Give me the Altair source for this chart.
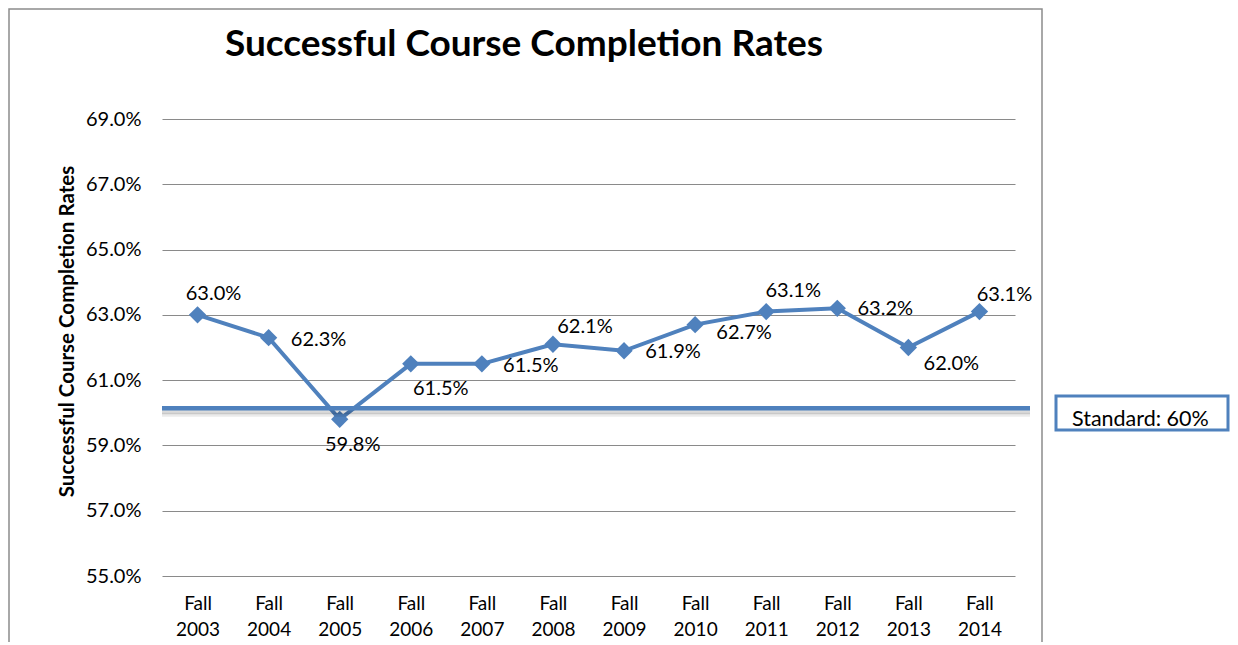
import altair as alt
import pandas as pd

terms = ["Fall 2003", "Fall 2004", "Fall 2005", "Fall 2006", "Fall 2007", "Fall 2008",
         "Fall 2009", "Fall 2010", "Fall 2011", "Fall 2012", "Fall 2013", "Fall 2014"]
rates = [63.0, 62.3, 59.8, 61.5, 61.5, 62.1, 61.9, 62.7, 63.1, 63.2, 62.0, 63.1]
standard = 60
y_ticks = [55, 57, 59, 61, 63, 65, 67, 69]
title_text = "Successful Course Completion Rates"
y_title = "Successful Course Completion Rates"

# label nudges (style only), in pixels
label_nudge = {
    "Fall 2003": (16, -21), "Fall 2004": (50, 2), "Fall 2005": (13, 26),
    "Fall 2006": (30, 25), "Fall 2007": (49, 2), "Fall 2008": (32, -17),
    "Fall 2009": (49, 1), "Fall 2010": (49, 8), "Fall 2011": (27, -21),
    "Fall 2012": (48, 1), "Fall 2013": (43, 16), "Fall 2014": (25, -17),
}

BLUE = "#4F81BD"
FONT = "Lato"

df = pd.DataFrame({"term": terms, "rate": rates})
std_df = pd.DataFrame({"rate": [standard]})
one = pd.DataFrame({"k": [0]})

W, H = 853, 457

xenc = alt.X("term:O", sort=terms, scale=alt.Scale(type="point", padding=0.5),
             axis=alt.Axis(title=None, labelAngle=0, labelExpr="split(datum.label, ' ')",
                           labelFontSize=19, labelFont=FONT, labelColor="#000",
                           labelLineHeight=26, labelPadding=18, ticks=False,
                           domain=False, grid=False))
yscale = alt.Scale(domain=[55, 69], nice=False, zero=False)
yenc = alt.Y("rate:Q", scale=yscale,
             axis=alt.Axis(values=y_ticks, labelExpr="format(datum.value, '.1f') + '%'",
                           labelFontSize=20, labelFont=FONT, labelColor="#000",
                           labelPadding=21, ticks=False, domain=False,
                           grid=True, gridColor="#8a8a8a", gridWidth=1.2,
                           title=y_title, titleFont=FONT, titleFontSize=20.5,
                           titleFontWeight="bold", titleColor="#000",
                           titleX=-89, titleY=212, titleAngle=-90,
                           titleAlign="center", titleBaseline="alphabetic"))

border = alt.Chart(one).mark_rect(fillOpacity=0, stroke="#8c8c8c", strokeWidth=1.5).encode(
    x=alt.value(-153), x2=alt.value(880), y=alt.value(-110), y2=alt.value(560))

line = alt.Chart(df).mark_line(color=BLUE, strokeWidth=4).encode(x=xenc, y=yenc)
points = alt.Chart(df).mark_point(shape="diamond", filled=True, color=BLUE, size=300,
                                  opacity=1).encode(x=xenc, y=yenc)

shadow1 = alt.Chart(std_df).mark_rule(color="#000", strokeWidth=5, opacity=0.14, yOffset=-1).encode(
    y=yenc, x=alt.value(0), x2=alt.value(868))
shadow2 = alt.Chart(std_df).mark_rule(color="#000", strokeWidth=4, opacity=0.08, yOffset=2).encode(
    y=yenc, x=alt.value(0), x2=alt.value(868))
std_line = alt.Chart(std_df).mark_rule(color=BLUE, strokeWidth=4.5, yOffset=-4.5).encode(
    y=yenc, x=alt.value(0), x2=alt.value(868))

box = alt.Chart(one).mark_rect(fill="white", stroke=BLUE, strokeWidth=3).encode(
    x=alt.value(894), x2=alt.value(1066), y=alt.value(277), y2=alt.value(311))
box_text = alt.Chart(std_df).transform_calculate(
    lab="'Standard: ' + datum.rate + '%'").mark_text(
    align="left", baseline="alphabetic", fontSize=21.5, font=FONT, color="#000").encode(
    x=alt.value(910), y=alt.value(307), text="lab:N")

title = alt.Chart(one).transform_calculate(t=f"'{title_text}'").mark_text(
    align="center", baseline="alphabetic", fontSize=37, font=FONT, fontWeight="bold",
    color="#000").encode(x=alt.value(362), y=alt.value(-63), text="t:N")

label_layers = []
for t in terms:
    dx, dy = label_nudge[t]
    label_layers.append(
        alt.Chart(df).transform_filter(alt.datum.term == t).transform_calculate(
            lab="format(datum.rate, '.1f') + '%'").mark_text(
            align="center", baseline="middle", fontSize=20, font=FONT, color="#000",
            dx=dx, dy=dy).encode(x=xenc, y=yenc, text="lab:N"))

chart = alt.layer(border, line, points, shadow1, shadow2, std_line, box, box_text, title,
                  *label_layers).properties(
    width=W, height=H,
    background="white",
    autosize=alt.AutoSizeParams(type="none"),
    padding={"left": 154, "top": 111, "right": 215, "bottom": 66},
).configure_view(strokeWidth=0)

chart.save("out.html", embed_options={"renderer": "svg", "actions": False})
